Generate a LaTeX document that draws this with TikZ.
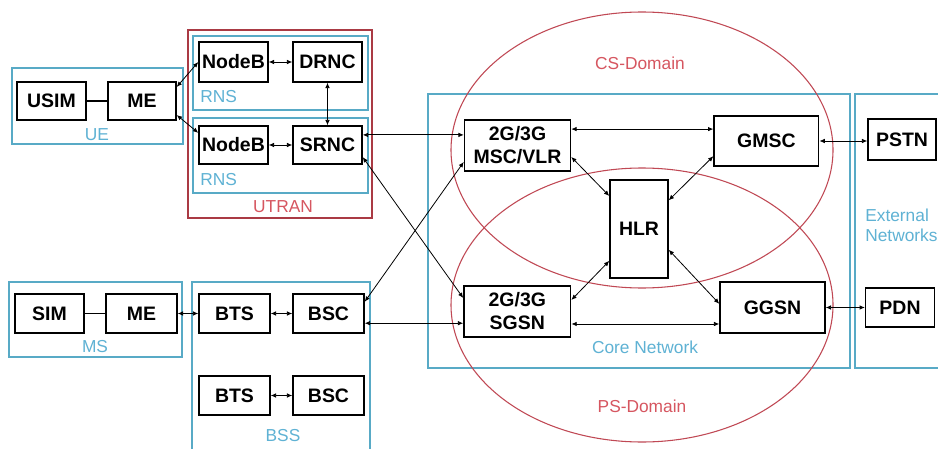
\documentclass[tikz,border=0pt]{standalone}
\usepackage{fontspec}
\setmainfont{Liberation Sans}
\usetikzlibrary{arrows.meta}

\definecolor{netblue}{RGB}{88,170,198}
\definecolor{netbluetext}{RGB}{95,178,212}
\definecolor{domred}{RGB}{192,72,84}
\definecolor{domredtext}{RGB}{214,86,96}
\definecolor{utranred}{RGB}{170,58,68}

\tikzset{
  netbox/.style={draw, line width=1.1pt, inner sep=0pt, align=center,
    font=\fontsize{14.6}{17.2}\selectfont\bfseries},
  grpbox/.style={draw=netblue, line width=0.9pt},
  grplabel/.style={text=netbluetext, inner sep=0pt, font=\fontsize{13}{15}\selectfont},
  domlabel/.style={text=domredtext, inner sep=0pt, font=\fontsize{13}{15}\selectfont},
  link/.style={line width=0.6pt, {Latex[length=4pt,width=3.4pt]}-{Latex[length=4pt,width=3.4pt]}},
}

\begin{document}
\begin{tikzpicture}[x=0.75pt,y=-0.75pt]
  \clip (0,0) rectangle (938,449);
  \fill[white] (0,0) rectangle (938,449);

  % groups
  \draw[grpbox] (12,68) rectangle (183,144);
  \draw[utranred, line width=0.9pt] (188,30) rectangle (372,218);
  \draw[grpbox] (193,36) rectangle (368,110);
  \draw[grpbox] (193,118) rectangle (368,193);
  \draw[grpbox] (9,282) rectangle (182,357);
  \draw[grpbox] (192,282) rectangle (370,470);
  \draw[grpbox] (428,94) rectangle (850,368);
  \draw[grpbox] (855,94) rectangle (990,368);

  % domains
  \draw[domred, line width=0.8pt] (642,150) ellipse [x radius=191, y radius=138];
  \draw[domred, line width=0.8pt] (642,305) ellipse [x radius=191, y radius=137];

  \node[grplabel] (uelbl) at (97,135) {UE};
  \node[domlabel] (utranlbl) at (283,207) {UTRAN};
  \node[grplabel, anchor=west] (rnsalbl) at (200,97) {RNS};
  \node[grplabel, anchor=west] (rnsblbl) at (200,180) {RNS};
  \node[grplabel] (mslbl) at (95,347) {MS};
  \node[grplabel] (bsslbl) at (283,436) {BSS};
  \node[grplabel] (corelbl) at (645,347) {Core Network};
  \node[grplabel, anchor=west, align=left] (extlbl) at (865,225) {External\\Networks};
  \node[domlabel] (cslbl) at (640,63) {CS-Domain};
  \node[domlabel] (pslbl) at (642,406) {PS-Domain};

  % UE and UTRAN
  \node[netbox, minimum width=51.75pt, minimum height=28.5pt] (usim) at (51.5,101) {USIM};
  \node[netbox, minimum width=51pt, minimum height=28.5pt] (meue) at (142,101) {ME};
  \node[netbox, minimum width=51.75pt, minimum height=30pt] (nodeba) at (233.5,62) {NodeB};
  \node[netbox, minimum width=51.75pt, minimum height=30pt] (drnc) at (327.5,62) {DRNC};
  \node[netbox, minimum width=51.75pt, minimum height=28.5pt] (nodebb) at (233.5,145) {NodeB};
  \node[netbox, minimum width=51.75pt, minimum height=28.5pt] (srnc) at (327.5,145) {SRNC};

  % MS and BSS
  \node[netbox, minimum width=51.75pt, minimum height=29.25pt] (sim) at (49.5,313.5) {SIM};
  \node[netbox, minimum width=53.25pt, minimum height=29.25pt] (mems) at (141.5,313.5) {ME};
  \node[netbox, minimum width=53.25pt, minimum height=29.25pt] (btsa) at (234.5,313.5) {BTS};
  \node[netbox, minimum width=53.25pt, minimum height=29.25pt] (bsca) at (328.5,313.5) {BSC};
  \node[netbox, minimum width=53.25pt, minimum height=29.25pt] (btsb) at (234.5,395.5) {BTS};
  \node[netbox, minimum width=53.25pt, minimum height=29.25pt] (bscb) at (328.5,395.5) {BSC};

  % core and external
  \node[netbox, minimum width=79.5pt, minimum height=38.25pt] (msc) at (517.5,145.5) {2G/3G\\MSC/VLR};
  \node[netbox, minimum width=78.5pt, minimum height=37.5pt] (gmsc) at (766.4,141) {GMSC};
  \node[netbox, minimum width=43.5pt, minimum height=73.5pt] (hlr) at (639,229) {HLR};
  \node[netbox, minimum width=80pt, minimum height=38.25pt] (sgsn) at (517.3,311.5) {2G/3G\\SGSN};
  \node[netbox, minimum width=78.75pt, minimum height=38.25pt] (ggsn) at (772.5,307.5) {GGSN};
  \node[netbox, minimum width=51pt, minimum height=30.75pt] (pstn) at (902,139.5) {PSTN};
  \node[netbox, minimum width=51.5pt, minimum height=29.25pt] (pdn) at (900,307.5) {PDN};

  % connections
  \draw[line width=0.8pt] (usim) -- (meue);
  \draw[line width=0.8pt] (sim) -- (mems);
  \draw[link] (meue.22) -- (nodeba.west);
  \draw[link] (meue.-22) -- (nodebb.161);
  \draw[link] (nodeba) -- (drnc);
  \draw[link] (drnc) -- (srnc);
  \draw[link] (nodebb) -- (srnc);
  \draw[link] (srnc.16) -- (srnc.16 -| msc.west);
  \draw[link] (srnc.-19) -- (sgsn.166);
  \draw[link] (bsca.18) -- (msc.197);
  \draw[link] (bsca.-15) -- (bsca.-15 -| sgsn.west);
  \draw[link] (mems) -- (btsa);
  \draw[link] (btsa) -- (bsca);
  \draw[link] (btsb) -- (bscb);
  \draw[link] (msc.17) -- (msc.17 -| gmsc.west);
  \draw[link] (msc.-12) -- (hlr.132);
  \draw[link] (gmsc.196) -- (hlr.44);
  \draw[link] (gmsc) -- (gmsc -| pstn.west);
  \draw[link] (hlr.227) -- (sgsn.12);
  \draw[link] (hlr.-35) -- (ggsn.176);
  \draw[link] (sgsn.-13) -- (sgsn.-13 -| ggsn.west);
  \draw[link] (ggsn) -- (pdn);
\end{tikzpicture}
\end{document}
